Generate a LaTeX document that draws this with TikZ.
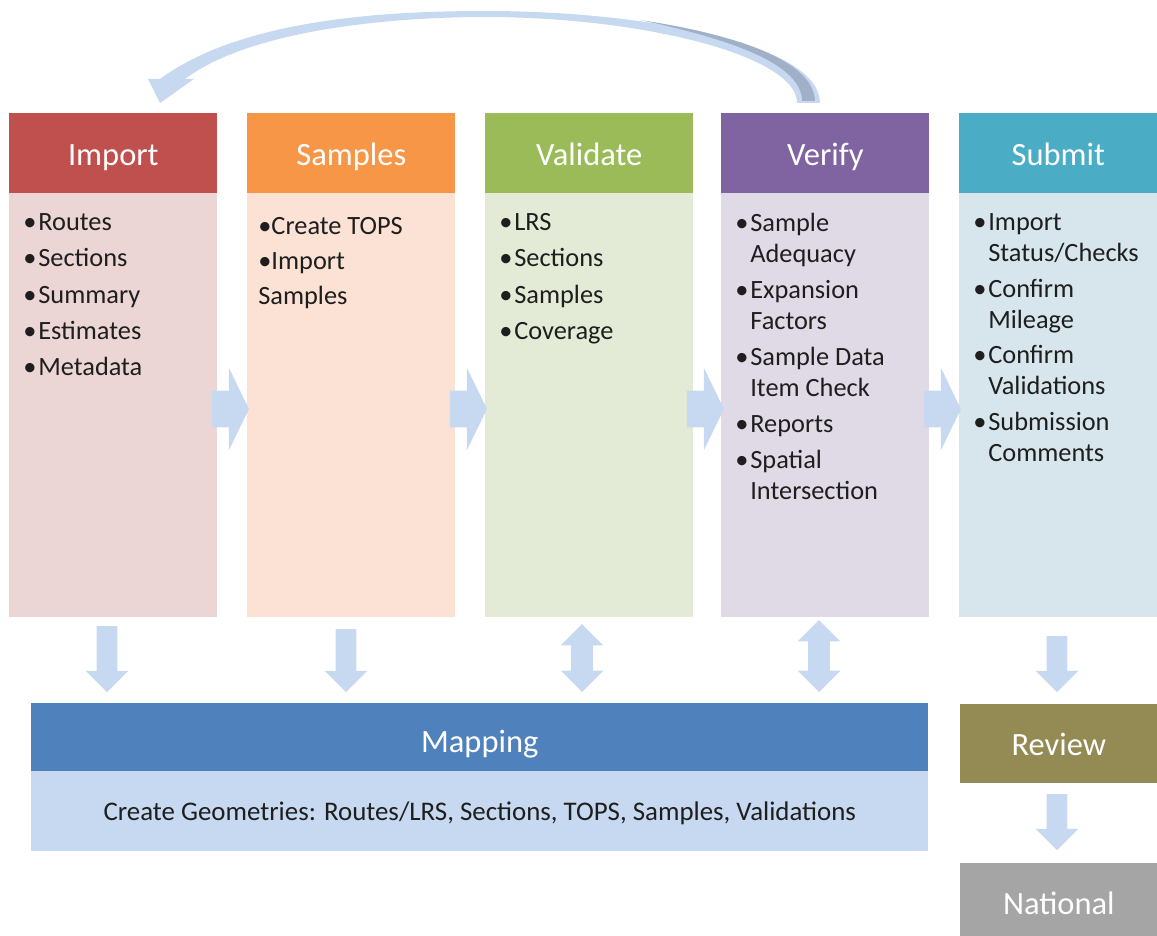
\documentclass[tikz,border=0pt]{standalone}
\usepackage{fontspec}
\setmainfont{Carlito}
\usepackage{xcolor}
\usepackage{tikz}
\usetikzlibrary{shapes.arrows, positioning}
\definecolor{cimport} {RGB}{192,80, 77}
\definecolor{csample} {RGB}{247,150,70}
\definecolor{cvalid}  {RGB}{155,187,89}
\definecolor{cverify} {RGB}{128,100,162}
\definecolor{csubmit} {RGB}{75, 172,198}
\definecolor{cmap}    {RGB}{79, 129,189}
\definecolor{creview} {RGB}{148,138,84}
\definecolor{cnation} {RGB}{165,165,165}
\definecolor{bimport} {RGB}{236,214,213}
\definecolor{bsample} {RGB}{252,226,212}
\definecolor{bvalid}  {RGB}{227,234,214}
\definecolor{bverify} {RGB}{224,218,231}
\definecolor{bsubmit} {RGB}{214,230,236}
\definecolor{bmap}    {RGB}{198,217,240}
\definecolor{carrow}  {RGB}{198,217,240}
\definecolor{carrowdk}{RGB}{160,176,200}
\definecolor{ctext}   {RGB}{30, 30, 30}
\newcommand{\itm}{\makebox[0.3cm][l]{\textbullet}}
\newcommand{\nxt}{\hspace*{0.3cm}}
\tikzset{
  hd/.style={rectangle, fill=#1, text=white, anchor=north west,
             font=\fontsize{18.5}{22}\selectfont,
             text height=0.48cm, text depth=0pt,
             minimum width=4.16cm, minimum height=1.6cm, inner sep=0pt},
  bd/.style={rectangle, fill=#1, anchor=north west,
             minimum width=4.16cm, minimum height=8.48cm, inner sep=0pt},
  items/.style={anchor=north west, align=left, inner sep=0pt, text=ctext,
                font=\fontsize{15}{17.6}\selectfont},
  flowarr/.style={single arrow, fill=carrow, inner sep=0pt,
                  text height=0.72cm, text depth=0pt,
                  single arrow head extend=0.46cm, single arrow tip angle=128,
                  minimum height=0.74cm},
  downarr/.style={single arrow, rotate=270, fill=carrow, inner sep=0pt,
                  text height=0.4cm, text depth=0pt,
                  single arrow head extend=0.22cm, minimum height=#1},
  duoarr/.style={double arrow, rotate=90, fill=carrow, inner sep=0pt,
                 text height=0.42cm, text depth=0pt,
                 double arrow head extend=0.21cm, minimum height=#1},
}

\begin{document}
\begin{tikzpicture}[x=0.02cm, y=-0.02cm]
  \useasboundingbox (0,0) rectangle (1157,936);

  % -- loop back from Verify to Import --------------------------------------
  \fill[carrow] (148,79) -- (160,79)
      .. controls (240,20) and (380,11) .. (485,11)
      .. controls (650,11) and (820,45) .. (820,103) -- (797,103)
      .. controls (797,55) and (640,17) .. (485,17)
      .. controls (390,17) and (250,30) .. (185,79)
      -- (194,79) -- (160,103) -- cycle;
  \fill[carrowdk] (802,101) -- (815,101)
      .. controls (814,62) and (740,35) .. (640,20)
      .. controls (735,40) and (802,65) .. (802,101) -- cycle;

  % -- column bodies ----------------------------------------------------------
  \node[bd=bimport] (impb) at (9,193)   {};
  \node[bd=bsample] (smpb) at (247,193) {};
  \node[bd=bvalid]  (valb) at (485,193) {};
  \node[bd=bverify] (verb) at (721,193) {};
  \node[bd=bsubmit, minimum width=3.96cm] (subb) at (959,193) {};

  % -- column headers ---------------------------------------------------------
  \node[hd=cimport] (imph) at (9,113)   {Import};
  \node[hd=csample] (smph) at (247,113) {Samples};
  \node[hd=cvalid]  (valh) at (485,113) {Validate};
  \node[hd=cverify] (verh) at (721,113) {Verify};
  \node[hd=csubmit, minimum width=3.96cm] (subh) at (959,113) {Submit};

  % -- column items -----------------------------------------------------------
  \node[items] (impt) at (23,213)
      {\itm Routes\\[0.11cm]\itm Sections\\[0.11cm]\itm Summary\\[0.11cm]
       \itm Estimates\\[0.11cm]\itm Metadata};
  \node[items] (smpt) at (258,217)
      {\textbullet Create TOPS\\[0.08cm]\textbullet Import\\[0.08cm]Samples};
  \node[items] (valt) at (499,213)
      {\itm LRS\\[0.11cm]\itm Sections\\[0.11cm]\itm Samples\\[0.11cm]\itm Coverage};
  \node[items] (vert) at (735,213)
      {\itm Sample\\\nxt Adequacy\\[0.1cm]\itm Expansion\\\nxt Factors\\[0.1cm]
       \itm Sample Data\\\nxt Item Check\\[0.1cm]\itm Reports\\[0.1cm]
       \itm Spatial\\\nxt Intersection};
  \node[items] (subt) at (973,213)
      {\itm Import\\\nxt Status/Checks\\[0.1cm]\itm Confirm\\\nxt Mileage\\[0.1cm]
       \itm Confirm\\\nxt Validations\\[0.1cm]\itm Submission\\\nxt Comments};

  % -- flow arrows between columns -------------------------------------------
  \node[flowarr] (f1) at (226,409)   {};
  \node[flowarr] (f2) at (464,409)   {};
  \node[flowarr] (f3) at (701,409)   {};
  \node[flowarr] (f4) at (938,409)   {};

  % -- mapping ----------------------------------------------------------------
  \node[hd=cmap, minimum width=17.94cm, minimum height=1.36cm,
        text height=0.6cm] (maph) at (31,703) {Mapping};
  \node[bd=bmap, minimum width=17.94cm, minimum height=1.6cm, text=ctext,
        font=\fontsize{15.3}{18}\selectfont, text height=0.36cm, text depth=0pt]
      (mapb) at (31,771)
      {Create Geometries: Routes/LRS, Sections, TOPS, Samples, Validations};

  % -- review and national ----------------------------------------------------
  \node[hd=creview, minimum width=3.94cm, minimum height=1.58cm] (revh) at (960,704)
      {Review};
  \node[hd=cnation, minimum width=3.94cm, minimum height=1.46cm,
        text height=0.58cm] (nath) at (960,863) {National};

  % -- arrows down to mapping / review ----------------------------------------
  \node[downarr=1.32cm] (d1) at (107,654)   {};
  \node[downarr=1.26cm] (d2) at (346,655.5) {};
  \node[duoarr=1.36cm]  (d3) at (582,658)   {};
  \node[duoarr=1.44cm]  (d4) at (819,656)   {};
  \node[downarr=1.12cm] (d5) at (1057,659)  {};
  \node[downarr=1.12cm] (d6) at (1057,817)  {};
\end{tikzpicture}
\end{document}
